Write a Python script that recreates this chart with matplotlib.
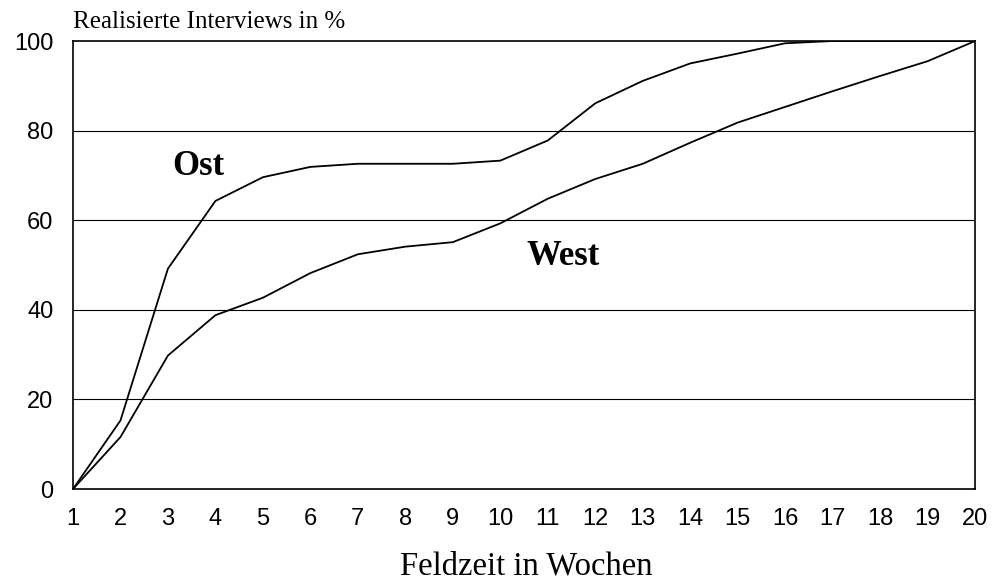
import matplotlib
matplotlib.use("Agg")
import matplotlib.pyplot as plt

#--- Data ---#
weeks = list(range(1, 21))
ost = [0, 15.3, 49.2, 64.3, 69.6, 71.9, 72.6, 72.6, 72.6, 73.3,
       77.8, 86.1, 91.1, 95.0, 97.2, 99.5, 100, 100, 100, 100]
west = [0, 11.6, 29.8, 38.8, 42.7, 48.2, 52.4, 54.1, 55.1, 59.3,
        64.8, 69.2, 72.6, 77.3, 81.8, 85.3, 88.8, 92.2, 95.5, 100]
y_ticks = [0, 20, 40, 60, 80, 100]

fig = plt.figure(figsize=(9.93, 5.86), dpi=100)
ax = fig.add_axes([0.0735, 0.1655, 0.9085, 0.7645])

ax.plot(weeks, ost, color="black", lw=1.3)
ax.plot(weeks, west, color="black", lw=1.3)

ax.set_xlim(1, 20)
ax.set_ylim(0, 100)
ax.set_xticks(weeks)
ax.set_yticks(y_ticks)
for y in y_ticks[1:-1]:
    ax.axhline(y, color="black", lw=0.8, zorder=0)

ax.tick_params(length=0, labelsize=17)
ax.tick_params(axis="x", pad=14)
ax.tick_params(axis="y", pad=14)
for lbl in ax.get_xticklabels() + ax.get_yticklabels():
    lbl.set_family("Liberation Sans")
for s in ax.spines.values():
    s.set_linewidth(1.2)
    s.set_color("black")

serif = "Liberation Serif"
ax.text(3.64, 70.1, "Ost", family=serif, fontweight="bold", fontsize=25,
        ha="center", va="baseline")
ax.text(11.32, 50.0, "West", family=serif, fontweight="bold", fontsize=25,
        ha="center", va="baseline")
fig.text(0.0735, 0.952, "Realisierte Interviews in %", family=serif,
         fontsize=18, ha="left", va="baseline")
fig.text(0.5297, 0.02, "Feldzeit in Wochen", family=serif, fontsize=23.5,
         ha="center", va="baseline")

fig.savefig("out.png", dpi=100)
